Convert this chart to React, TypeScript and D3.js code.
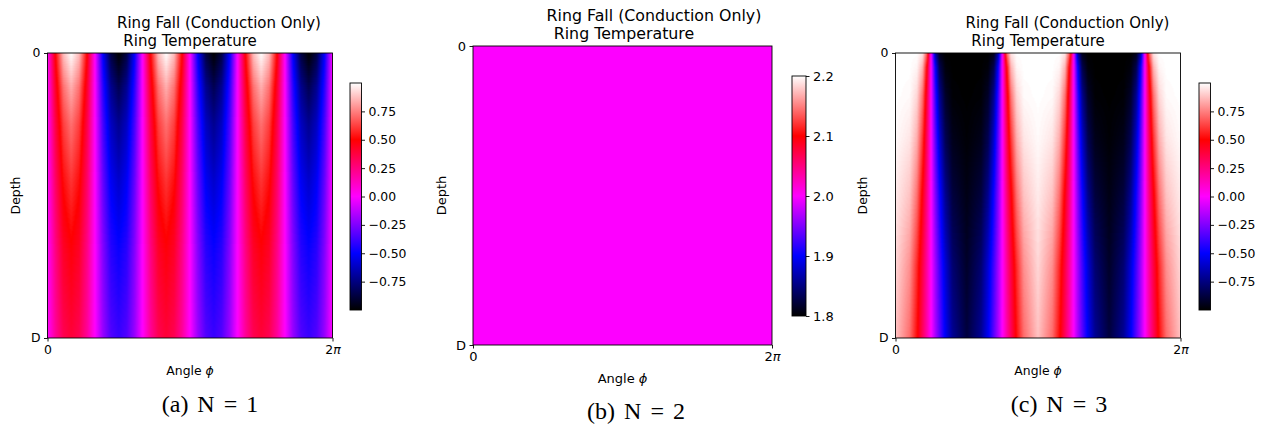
import React, { useEffect, useRef } from "react";
import * as d3 from "d3";

// colormap shared by all three panels: black -> blue -> magenta -> red -> white
const cmapColors = ["#000000", "#0000ff", "#ff00ff", "#ff0000", "#ffffff"];

// ---- panel (a) N = 1 : one period of the angular profile, repeated 3 times over 2pi
const periodsA = 3;
const depthsA = [0, 0.12, 0.25, 0.45, 0.7, 1];
const phasesA = [0, 0.083, 0.167, 0.25, 0.333, 0.417, 0.5, 0.583, 0.667, 0.75, 0.833, 0.917, 1];
const valuesA = [
  [0, 0.5, 0.87, 1, 0.87, 0.5, 0, -0.5, -0.87, -1, -0.87, -0.5, 0],
  [0, 0.42, 0.72, 0.84, 0.72, 0.42, 0, -0.42, -0.72, -0.84, -0.72, -0.42, 0],
  [0, 0.36, 0.62, 0.72, 0.62, 0.36, 0, -0.36, -0.62, -0.72, -0.62, -0.36, 0],
  [0, 0.3, 0.52, 0.6, 0.52, 0.3, 0, -0.3, -0.52, -0.6, -0.52, -0.3, 0],
  [0, 0.24, 0.42, 0.48, 0.42, 0.24, 0, -0.24, -0.42, -0.48, -0.42, -0.24, 0],
  [0, 0.2, 0.34, 0.39, 0.34, 0.2, 0, -0.2, -0.34, -0.39, -0.34, -0.2, 0],
];
const colorDomainA = [-1, -0.5, 0, 0.5, 1];
const cbTicksA = [-0.75, -0.5, -0.25, 0, 0.25, 0.5, 0.75];

// ---- panel (b) N = 2 : flat field
const periodsB = 1;
const depthsB = [0, 1];
const phasesB = [0, 1];
const valuesB = [
  [2.0, 2.0],
  [2.0, 2.0],
];
const colorDomainB = [1.8, 1.9, 2.0, 2.1, 2.2];
const cbTicksB = [1.8, 1.9, 2.0, 2.1, 2.2];

// ---- panel (c) N = 3 : one period repeated twice over 2pi
const periodsC = 2;
const depthsC = [0, 0.05, 0.15, 0.3, 0.5, 0.75, 1];
const phasesC = [0, 0.1, 0.15, 0.19, 0.22, 0.25, 0.28, 0.31, 0.35, 0.4, 0.5, 0.6, 0.65, 0.69, 0.72, 0.75, 0.78, 0.81, 0.85, 0.9, 1];
const valuesC = [
  [1, 1, 1, 0.95, 0.68, 0, -0.68, -0.95, -1, -1, -1, -1, -1, -0.95, -0.68, 0, 0.68, 0.95, 1, 1, 1],
  [1, 1, 0.98, 0.85, 0.5, 0, -0.5, -0.85, -0.98, -1, -1, -1, -0.98, -0.85, -0.5, 0, 0.5, 0.85, 0.98, 1, 1],
  [1, 0.99, 0.92, 0.72, 0.4, 0, -0.4, -0.72, -0.92, -0.99, -1, -0.99, -0.92, -0.72, -0.4, 0, 0.4, 0.72, 0.92, 0.99, 1],
  [0.99, 0.95, 0.84, 0.6, 0.32, 0, -0.32, -0.6, -0.84, -0.95, -0.99, -0.95, -0.84, -0.6, -0.32, 0, 0.32, 0.6, 0.84, 0.95, 0.99],
  [0.96, 0.88, 0.72, 0.47, 0.25, 0, -0.25, -0.47, -0.72, -0.88, -0.96, -0.88, -0.72, -0.47, -0.25, 0, 0.25, 0.47, 0.72, 0.88, 0.96],
  [0.92, 0.78, 0.58, 0.37, 0.19, 0, -0.19, -0.37, -0.58, -0.78, -0.92, -0.78, -0.58, -0.37, -0.19, 0, 0.19, 0.37, 0.58, 0.78, 0.92],
  [0.88, 0.71, 0.52, 0.32, 0.17, 0, -0.17, -0.32, -0.52, -0.71, -0.88, -0.71, -0.52, -0.32, -0.17, 0, 0.17, 0.32, 0.52, 0.71, 0.88],
];
const colorDomainC = [-1, -0.5, 0, 0.5, 1];
const cbTicksC = [-0.75, -0.5, -0.25, 0, 0.25, 0.5, 0.75];

const suptitle = "Ring Fall (Conduction Only)";
const title = "Ring Temperature";
const captions = ["(a) N = 1", "(b) N = 2", "(c) N = 3"];

const FONT = "DejaVu Sans, sans-serif";

// layout of each sub figure
const panels = [
  {
    id: "a", periods: periodsA, depths: depthsA, phases: phasesA, values: valuesA,
    colorDomain: colorDomainA, cbTicks: cbTicksA, cbFormat: ".2f", caption: captions[0],
    x0: 47.5, y0: 53, w: 285, h: 285,
    cbX: 350, cbW: 11.5, cbY0: 83, cbY1: 310,
    fs: 12.4, tfs: 15, t1: [219, 28], t2: [190, 46], depthX: 16, capPos: [210, 412],
  },
  {
    id: "b", periods: periodsB, depths: depthsB, phases: phasesB, values: valuesB,
    colorDomain: colorDomainB, cbTicks: cbTicksB, cbFormat: ".1f", caption: captions[1],
    x0: 473, y0: 46, w: 299, h: 299,
    cbX: 792, cbW: 14, cbY0: 76, cbY1: 316,
    fs: 13, tfs: 15.8, t1: [654, 20.5], t2: [624, 39], depthX: 441, capPos: [636, 419],
  },
  {
    id: "c", periods: periodsC, depths: depthsC, phases: phasesC, values: valuesC,
    colorDomain: colorDomainC, cbTicks: cbTicksC, cbFormat: ".2f", caption: captions[2],
    x0: 895.5, y0: 53, w: 285, h: 285,
    cbX: 1199, cbW: 11.5, cbY0: 83, cbY1: 310,
    fs: 12.4, tfs: 15, t1: [1067.5, 28], t2: [1038, 46], depthX: 863, capPos: [1059, 412],
  },
];

function drawPanel(svg: any, p: any) {
  const g = svg.append("g").attr("font-family", FONT).attr("fill", "#000");
  const x = d3.scaleLinear().domain([0, 2 * Math.PI]).range([p.x0, p.x0 + p.w]);
  const y = d3.scaleLinear().domain([0, 1]).range([p.y0, p.y0 + p.h]);
  const vmin = p.colorDomain[0];
  const vmax = p.colorDomain[p.colorDomain.length - 1];
  const color = d3.scaleLinear<string>().domain(p.colorDomain).range(cmapColors).clamp(true);
  const lut = d3.range(256).map((i) => d3.rgb(color(vmin + ((vmax - vmin) * i) / 255)));

  // heatmap: each row is a piecewise linear profile in phase, rows blended in depth
  const cw = Math.round(p.w);
  const ch = Math.round(p.h);
  const canvas = document.createElement("canvas");
  canvas.width = cw;
  canvas.height = ch;
  const ctx = canvas.getContext("2d")!;
  const img = ctx.createImageData(cw, ch);
  const rowScales = p.values.map((row: number[]) => d3.scaleLinear().domain(p.phases).range(row));
  for (let i = 0; i < cw; i++) {
    const phi = x.invert(p.x0 + ((i + 0.5) * p.w) / cw);
    const f = ((phi / (2 * Math.PI)) * p.periods) % 1;
    const depthScale = d3.scaleLinear().domain(p.depths).range(rowScales.map((s: any) => s(f)));
    for (let j = 0; j < ch; j++) {
      const v = depthScale(y.invert(p.y0 + ((j + 0.5) * p.h) / ch));
      const k = Math.max(0, Math.min(255, Math.round(((v - vmin) / (vmax - vmin)) * 255)));
      const c = lut[k];
      const o = (j * cw + i) * 4;
      img.data[o] = c.r;
      img.data[o + 1] = c.g;
      img.data[o + 2] = c.b;
      img.data[o + 3] = 255;
    }
  }
  ctx.putImageData(img, 0, 0);
  g.append("image")
    .attr("x", p.x0)
    .attr("y", p.y0)
    .attr("width", p.w)
    .attr("height", p.h)
    .attr("preserveAspectRatio", "none")
    .attr("href", canvas.toDataURL());

  // spines
  g.append("rect")
    .attr("x", p.x0)
    .attr("y", p.y0)
    .attr("width", p.w)
    .attr("height", p.h)
    .attr("fill", "none")
    .attr("stroke", "#000")
    .attr("stroke-width", 0.9);

  // y axis: 0 at top, D at bottom
  const yAxis = g
    .append("g")
    .attr("transform", `translate(${p.x0},0)`)
    .call(
      d3.axisLeft(y).tickValues([0, 1]).tickFormat((d: any) => (d === 0 ? "0" : "D")).tickSize(3.5).tickPadding(3.5)
    );
  yAxis.select(".domain").remove();
  yAxis.selectAll("text").attr("font-size", p.fs).attr("font-family", FONT).attr("fill", "#000");
  yAxis.selectAll("line").attr("stroke", "#000").attr("stroke-width", 0.9);

  // x axis: 0 .. 2pi
  const xAxis = g
    .append("g")
    .attr("transform", `translate(0,${p.y0 + p.h})`)
    .call(d3.axisBottom(x).tickValues([0, 2 * Math.PI]).tickFormat(() => "").tickSize(3.5).tickPadding(3.5));
  xAxis.select(".domain").remove();
  xAxis.selectAll("line").attr("stroke", "#000").attr("stroke-width", 0.9);
  xAxis.selectAll("text").each(function (this: any, d: any) {
    const t = d3.select(this).attr("font-size", p.fs).attr("font-family", FONT).attr("fill", "#000");
    if (d === 0) {
      t.text("0");
    } else {
      t.append("tspan").text("2");
      t.append("tspan").attr("font-style", "italic").text("π");
    }
  });

  // axis labels
  const xl = g
    .append("text")
    .attr("x", p.x0 + p.w / 2)
    .attr("y", p.y0 + p.h + p.fs * 2.95)
    .attr("text-anchor", "middle")
    .attr("font-size", p.fs);
  xl.append("tspan").text("Angle ");
  xl.append("tspan").attr("font-style", "italic").text("ϕ");

  g.append("text")
    .attr("transform", `translate(${p.depthX},${p.y0 + p.h / 2}) rotate(-90)`)
    .attr("text-anchor", "middle")
    .attr("dy", "0.35em")
    .attr("font-size", p.fs)
    .text("Depth");

  // titles
  g.append("text")
    .attr("x", p.t1[0])
    .attr("y", p.t1[1])
    .attr("text-anchor", "middle")
    .attr("font-size", p.tfs)
    .text(suptitle);
  g.append("text")
    .attr("x", p.t2[0])
    .attr("y", p.t2[1])
    .attr("text-anchor", "middle")
    .attr("font-size", p.tfs)
    .text(title);

  // colorbar
  const gradId = "cbgrad-" + p.id;
  const grad = svg
    .append("defs")
    .append("linearGradient")
    .attr("id", gradId)
    .attr("x1", 0)
    .attr("y1", 1)
    .attr("x2", 0)
    .attr("y2", 0);
  p.colorDomain.forEach((v: number, i: number) => {
    grad
      .append("stop")
      .attr("offset", (v - vmin) / (vmax - vmin))
      .attr("stop-color", cmapColors[i]);
  });
  const cbScale = d3.scaleLinear().domain([vmin, vmax]).range([p.cbY1, p.cbY0]);
  g.append("rect")
    .attr("x", p.cbX)
    .attr("y", p.cbY0)
    .attr("width", p.cbW)
    .attr("height", p.cbY1 - p.cbY0)
    .attr("fill", `url(#${gradId})`)
    .attr("stroke", "#000")
    .attr("stroke-width", 0.9);
  const cbAxis = g
    .append("g")
    .attr("transform", `translate(${p.cbX + p.cbW},0)`)
    .call(d3.axisRight(cbScale).tickValues(p.cbTicks).tickFormat(d3.format(p.cbFormat)).tickSize(3.5).tickPadding(3.5));
  cbAxis.select(".domain").remove();
  cbAxis.selectAll("line").attr("stroke", "#000").attr("stroke-width", 0.9);
  cbAxis.selectAll("text").attr("font-size", p.fs).attr("font-family", FONT).attr("fill", "#000");

  // LaTeX style sub caption
  g.append("text")
    .attr("x", p.capPos[0])
    .attr("y", p.capPos[1])
    .attr("text-anchor", "middle")
    .attr("font-family", "Liberation Serif, serif")
    .attr("font-size", 24)
    .attr("word-spacing", 3)
    .text(p.caption);
}

const App = () => {
  const svgRef = useRef<SVGSVGElement>(null);

  useEffect(() => {
    if (!svgRef.current) return;
    const svg = d3.select(svgRef.current);
    svg.selectAll("*").remove();
    panels.forEach((p) => drawPanel(svg, p));
  }, []);

  return (
    <svg
      ref={svgRef}
      width={1265}
      height={431}
      style={{ position: "absolute", left: 0, top: 0, background: "#fff" }}
    />
  );
};

export default App;
